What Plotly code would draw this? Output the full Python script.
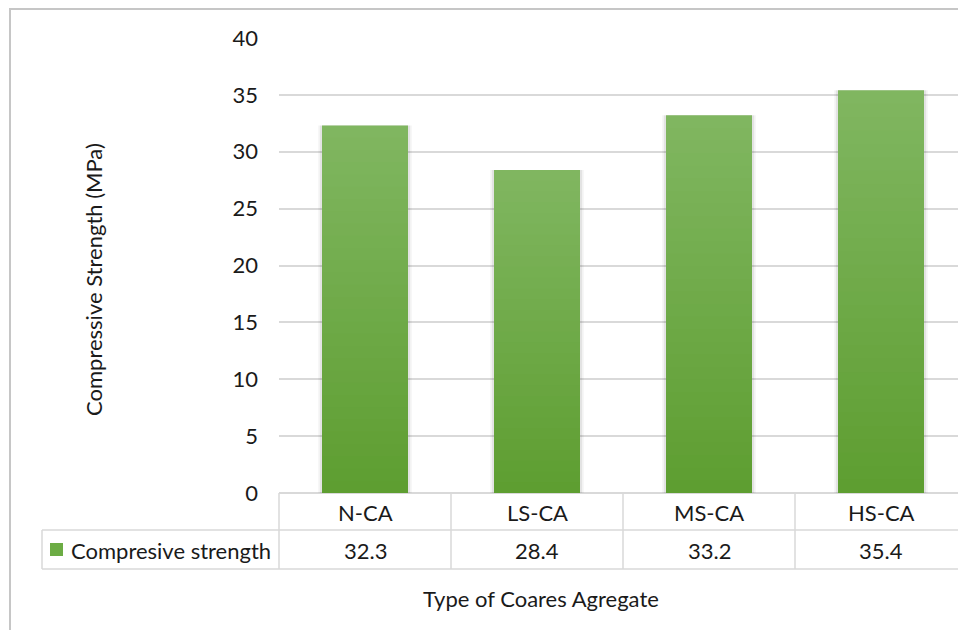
import plotly.graph_objects as go

# Chart data
categories = ["N-CA", "LS-CA", "MS-CA", "HS-CA"]
strength = [32.3, 28.4, 33.2, 35.4]
series_name = "Compresive strength"
y_ticks = [0, 5, 10, 15, 20, 25, 30, 35, 40]
y_title = "Compressive Strength (MPa)"
x_title = "Type of Coares Agregate"

W, H = 958, 630
FONT = "Lato"
FS = 22
TXT = "#1a1a1a"
LINE = "#D9D9D9"
TOP_C = (128, 182, 96)
BOT_C = (94, 158, 49)


def px(x):
    return x / W


def py(y):
    return 1 - y / H


# plot area geometry (pixels)
PL, PT, PB = 279, 38, 493
COL_W = 172
ROW1, ROW2 = 530, 569
LEG_L = 42

fig = go.Figure()

# soft shadow around the bars
for w, a in [(0.545, 0.04), (0.525, 0.07)]:
    fig.add_trace(go.Bar(
        x=categories, y=strength, width=w,
        marker=dict(color="rgba(0,0,0,%s)" % a, line=dict(width=0)),
        hoverinfo="skip", showlegend=False,
    ))

# Vertical gradient on each bar: stacked overlays of decreasing height
N = 30
for k in range(N):
    t = k / (N - 1)
    c = tuple(round(a + (b - a) * t) for a, b in zip(TOP_C, BOT_C))
    fig.add_trace(go.Bar(
        x=categories,
        y=[v * (N - k) / N for v in strength],
        width=0.5,
        marker=dict(color="rgb(%d,%d,%d)" % c, line=dict(width=0)),
        hoverinfo="skip",
        showlegend=False,
    ))

x_hi = -0.5 + (W - PL) / COL_W

fig.update_layout(
    width=W, height=H,
    margin=dict(l=0, r=0, t=0, b=0, autoexpand=False),
    paper_bgcolor="white", plot_bgcolor="white",
    barmode="overlay",
    showlegend=False,
    font=dict(family=FONT, size=FS, color=TXT),
    xaxis=dict(
        domain=[px(PL), 1],
        range=[-0.5, x_hi],
        showticklabels=False, showgrid=False, zeroline=False,
        showline=False, ticks="", automargin=False,
    ),
    yaxis=dict(
        domain=[py(PB), py(PT)],
        range=[0, 40],
        tickvals=y_ticks,
        showgrid=True, gridcolor=LINE, gridwidth=1.5,
        zeroline=True, zerolinecolor=LINE, zerolinewidth=1.5,
        showline=False, ticks="", automargin=False,
        ticklabelstandoff=20,
        tickfont=dict(family=FONT, size=FS, color=TXT),
    ),
)

shapes = []
line = dict(color=LINE, width=1.5)
# outer chart border
shapes.append(dict(type="rect", xref="paper", yref="paper",
                   x0=px(10), x1=1.2, y0=-0.2, y1=py(9),
                   line=dict(color="#C6C6C6", width=2), fillcolor="rgba(0,0,0,0)"))
# data table grid
shapes.append(dict(type="line", xref="paper", yref="paper",
                   x0=px(PL), x1=px(PL), y0=py(PB), y1=py(ROW2), line=line))
for b in [0.5, 1.5, 2.5]:
    shapes.append(dict(type="line", xref="x", yref="paper",
                       x0=b, x1=b, y0=py(PB), y1=py(ROW2), line=line))
for yy in [ROW1, ROW2]:
    shapes.append(dict(type="line", xref="paper", yref="paper",
                       x0=px(LEG_L), x1=1, y0=py(yy), y1=py(yy), line=line))
shapes.append(dict(type="line", xref="paper", yref="paper",
                   x0=px(LEG_L), x1=px(LEG_L), y0=py(ROW1), y1=py(ROW2), line=line))
# legend key
shapes.append(dict(type="rect", xref="paper", yref="paper",
                   x0=px(50), x1=px(63), y0=py(556), y1=py(543),
                   line=dict(width=0), fillcolor="rgb(108,172,68)"))
fig.update_layout(shapes=shapes)

ann = []
for i, (cat, v) in enumerate(zip(categories, strength)):
    ann.append(dict(x=cat, y=py(512), xref="x", yref="paper", text=cat,
                    showarrow=False, xanchor="center", yanchor="middle"))
    ann.append(dict(x=cat, y=py(550), xref="x", yref="paper", text=f"{v}",
                    showarrow=False, xanchor="center", yanchor="middle"))
ann.append(dict(x=px(69), y=py(550), xref="paper", yref="paper", text=series_name,
                showarrow=False, xanchor="left", yanchor="middle"))
ann.append(dict(x=px(541), y=py(598), xref="paper", yref="paper", text=x_title,
                showarrow=False, xanchor="center", yanchor="middle"))
ann.append(dict(x=px(93), y=py(280), xref="paper", yref="paper", text=y_title,
                textangle=-90, showarrow=False, xanchor="center", yanchor="middle"))
fig.update_layout(annotations=ann)

fig.write_html("out.html")
